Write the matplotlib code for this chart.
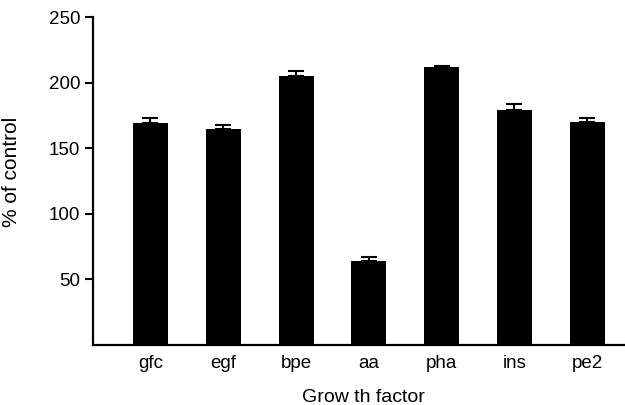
import matplotlib.pyplot as plt
import numpy as np

factors = ['gfc', 'egf', 'bpe', 'aa', 'pha', 'ins', 'pe2']
pct_control = [169, 165, 205, 64, 212, 179, 170]
sem = [4, 3, 4, 3, 1, 5, 3]
yticks = [50, 100, 150, 200, 250]

def main():
    plt.rcParams['font.family'] = ['Liberation Sans', 'DejaVu Sans']
    fig = plt.figure(figsize=(6.25, 4.05), dpi=100)
    ax = fig.add_axes([93/625, 1-345/405, 532/625, 328/405])

    x = np.arange(len(factors))
    ax.bar(x, pct_control, width=0.48, color='black', zorder=2)
    # one-sided error bars (upper only)
    ax.errorbar(x, pct_control, yerr=[np.zeros(len(sem)), sem], fmt='none',
                ecolor='black', elinewidth=1.5, capsize=6, capthick=1.5, zorder=3)

    ax.set_xlim(-0.79, 6.52)
    ax.set_ylim(0, 250)
    ax.set_xticks(x)
    ax.set_xticklabels(factors, fontsize=13.5)
    ax.set_yticks(yticks)
    ax.set_yticklabels([str(t) for t in yticks], fontsize=13.5)
    ax.tick_params(axis='x', length=0, pad=7)
    ax.tick_params(axis='y', length=6, width=1.5, pad=3)

    for s in ['top', 'right']:
        ax.spines[s].set_visible(False)
    for s in ['left', 'bottom']:
        ax.spines[s].set_linewidth(1.6)

    ax.set_ylabel('% of control', fontsize=15)
    ax.yaxis.set_label_coords(-0.135, 0.529)
    ax.set_xlabel('Grow th factor', fontsize=14)
    ax.xaxis.set_label_coords(0.509, -0.135)

    fig.savefig('out.png', dpi=100)

if __name__ == '__main__':
    main()
